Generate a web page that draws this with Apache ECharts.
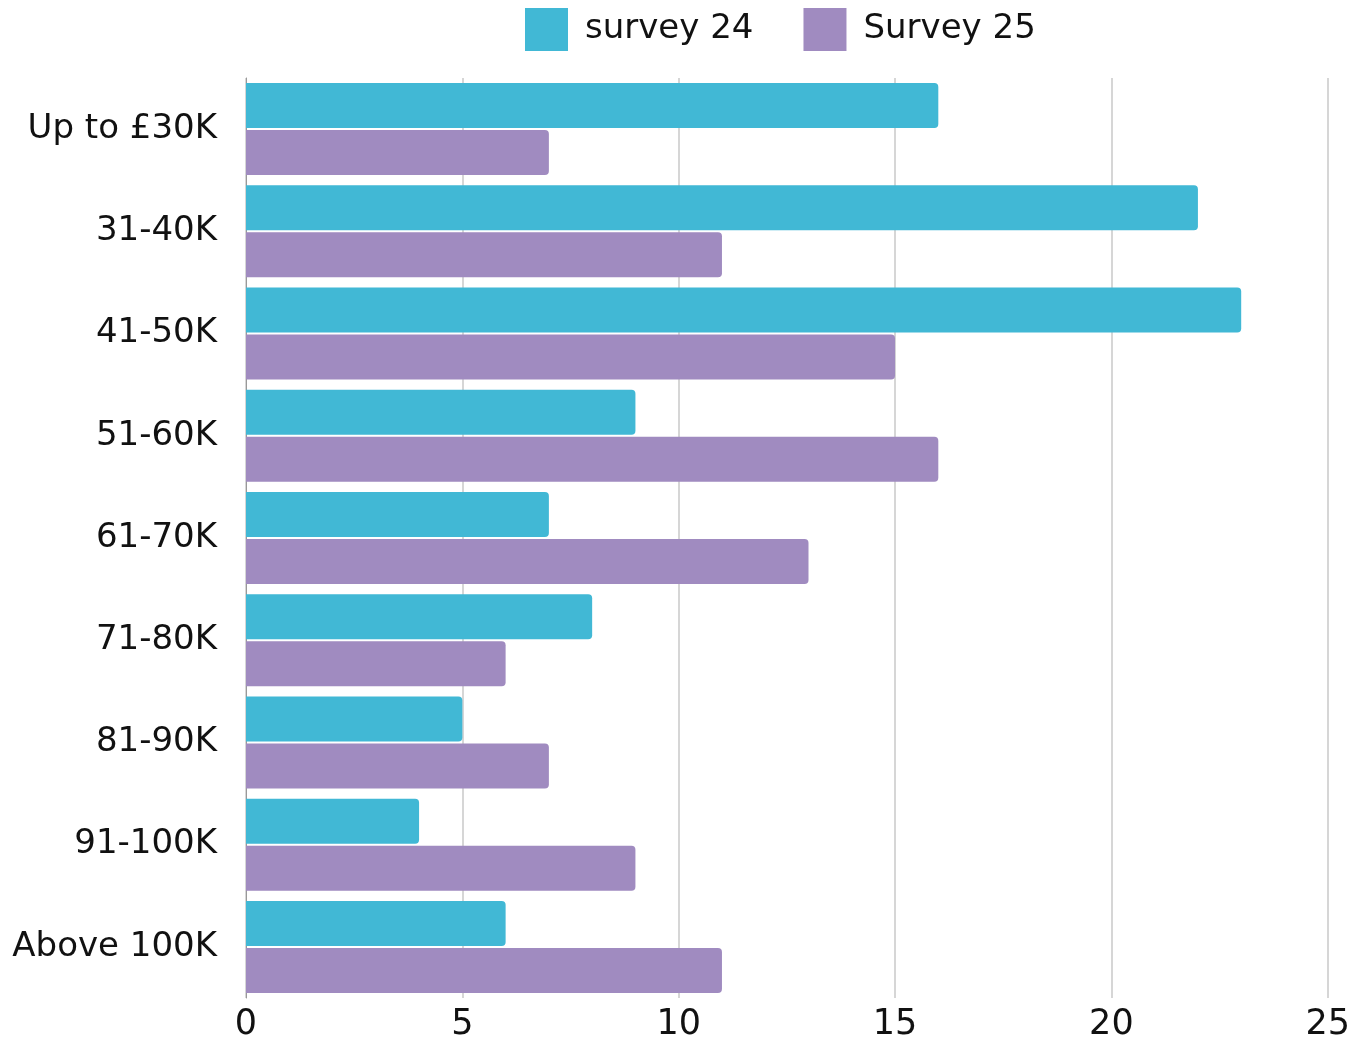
<!DOCTYPE html>
<html>
<head>
<meta charset="utf-8">
<script src="https://cdn.jsdelivr.net/npm/echarts@6/dist/echarts.min.js"></script>
<style>
  html, body { margin: 0; padding: 0; background: #fff; }
  #chart { width: 1353px; height: 1042px; }
</style>
</head>
<body>
<div id="chart"></div>
<script>
// salary bands, top to bottom
var bands = ['Up to £30K', '31-40K', '41-50K', '51-60K', '61-70K', '71-80K', '81-90K', '91-100K', 'Above 100K'];
var survey24 = [16, 22, 23, 9, 7, 8, 5, 4, 6];
var survey25 = [7, 11, 15, 16, 13, 6, 7, 9, 11];
var seriesNames = ['survey 24', 'Survey 25'];

var font = 'DejaVu Sans';
var chart = echarts.init(document.getElementById('chart'));
chart.setOption({
  animation: false,
  color: ['#41b8d5', '#a08bc0'],
  textStyle: { fontFamily: font },
  legend: {
    left: 525,
    top: 8,
    padding: 0,
    itemWidth: 43,
    itemHeight: 43,
    itemGap: 50,
    itemTextGap: 17,
    icon: 'rect',
    textStyle: { fontSize: 34, color: '#111', fontFamily: font, padding: [0, 0, 0, 12] },
    data: seriesNames
  },
  grid: { left: 246, right: 25, top: 78, bottom: 42, containLabel: false },
  xAxis: {
    type: 'value',
    min: 0,
    max: 25,
    interval: 5,
    axisLine: { show: false },
    axisTick: { show: false },
    splitLine: { lineStyle: { color: '#c8c8c8', width: 1.5 } },
    axisLabel: { fontSize: 35, color: '#111', margin: 9, fontFamily: font }
  },
  yAxis: {
    type: 'category',
    inverse: true,
    data: bands,
    axisLine: { show: true, lineStyle: { color: '#999', width: 1 } },
    axisTick: { show: false },
    axisLabel: { fontSize: 34, color: '#111', margin: 29, fontFamily: font }
  },
  series: [
    {
      name: seriesNames[0],
      type: 'bar',
      data: survey24,
      barWidth: 45,
      barGap: '4.5%',
      itemStyle: { borderRadius: [0, 4, 4, 0] }
    },
    {
      name: seriesNames[1],
      type: 'bar',
      data: survey25,
      barWidth: 45,
      barGap: '4.5%',
      itemStyle: { borderRadius: [0, 4, 4, 0] }
    }
  ]
});
</script>
</body>
</html>
